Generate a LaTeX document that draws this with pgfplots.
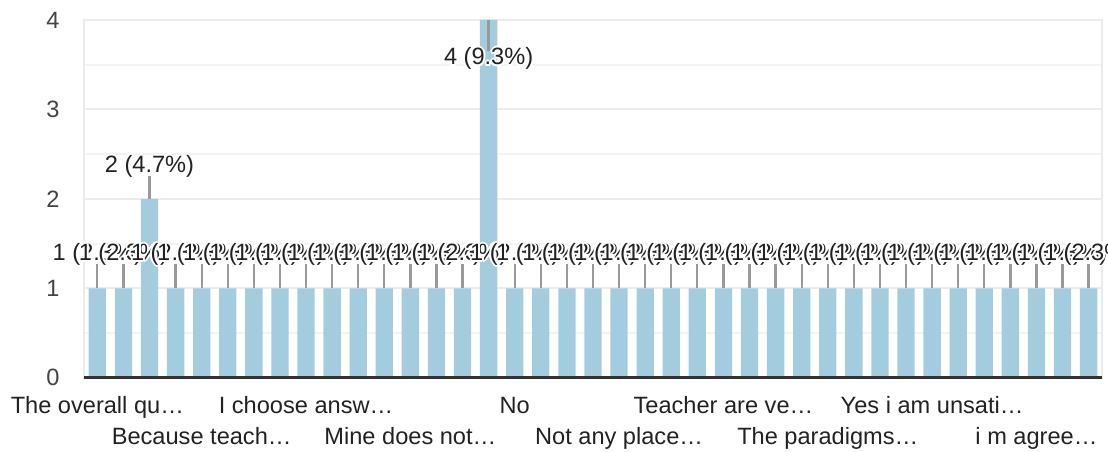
\documentclass[border=0pt]{standalone}
\usepackage{pgfplots}
\pgfplotsset{compat=1.18}
\usepackage{pgfplotstable}
\usepackage{fontspec}
\setmainfont{Liberation Sans}
\definecolor{barblue}{HTML}{A4CCDF}
\definecolor{gridgray}{HTML}{EBEBEB}
\definecolor{minorgray}{HTML}{F3F3F3}
\definecolor{leadergray}{HTML}{999999}
\definecolor{basecol}{HTML}{333333}
\definecolor{txt}{HTML}{222222}
\definecolor{ticktxt}{HTML}{444444}
\newcommand{\halo}[1]{\leavevmode
 \rlap{\color{white}\hspace*{2pt}#1}%
 \rlap{\color{white}\hspace*{-2pt}#1}%
 \rlap{\color{white}\raisebox{2pt}{#1}}%
 \rlap{\color{white}\raisebox{-2pt}{#1}}%
 \rlap{\color{white}\hspace*{1.4pt}\raisebox{1.4pt}{#1}}%
 \rlap{\color{white}\hspace*{-1.4pt}\raisebox{1.4pt}{#1}}%
 \rlap{\color{white}\hspace*{1.4pt}\raisebox{-1.4pt}{#1}}%
 \rlap{\color{white}\hspace*{-1.4pt}\raisebox{-1.4pt}{#1}}%
 #1}

\pgfplotstableread{
x y
0 1
1 1
2 2
3 1
4 1
5 1
6 1
7 1
8 1
9 1
10 1
11 1
12 1
13 1
14 1
15 4
16 1
17 1
18 1
19 1
20 1
21 1
22 1
23 1
24 1
25 1
26 1
27 1
28 1
29 1
30 1
31 1
32 1
33 1
34 1
35 1
36 1
37 1
38 1
}\bardata

% leader lines: bar top to label, one segment per bar
\pgfplotstableread{
x y
0 1
0 1.27
0 nan
1 1
1 1.27
1 nan
2 2
2 2.26
2 nan
3 1
3 1.27
3 nan
4 1
4 1.27
4 nan
5 1
5 1.27
5 nan
6 1
6 1.27
6 nan
7 1
7 1.27
7 nan
8 1
8 1.27
8 nan
9 1
9 1.27
9 nan
10 1
10 1.27
10 nan
11 1
11 1.27
11 nan
12 1
12 1.27
12 nan
13 1
13 1.27
13 nan
14 1
14 1.27
14 nan
15 4
15 3.65
15 nan
16 1
16 1.27
16 nan
17 1
17 1.27
17 nan
18 1
18 1.27
18 nan
19 1
19 1.27
19 nan
20 1
20 1.27
20 nan
21 1
21 1.27
21 nan
22 1
22 1.27
22 nan
23 1
23 1.27
23 nan
24 1
24 1.27
24 nan
25 1
25 1.27
25 nan
26 1
26 1.27
26 nan
27 1
27 1.27
27 nan
28 1
28 1.27
28 nan
29 1
29 1.27
29 nan
30 1
30 1.27
30 nan
31 1
31 1.27
31 nan
32 1
32 1.27
32 nan
33 1
33 1.27
33 nan
34 1
34 1.27
34 nan
35 1
35 1.27
35 nan
36 1
36 1.27
36 nan
37 1
37 1.27
37 nan
38 1
38 1.27
}\leaderdata

\pgfplotstableread[col sep=comma]{
x,ly,lab
0,1.31,1 (2.3\%)
1,1.31,1 (2.3\%)
2,2.29,2 (4.7\%)
3,1.31,1 (2.3\%)
4,1.31,1 (2.3\%)
5,1.31,1 (2.3\%)
6,1.31,1 (2.3\%)
7,1.31,1 (2.3\%)
8,1.31,1 (2.3\%)
9,1.31,1 (2.3\%)
10,1.31,1 (2.3\%)
11,1.31,1 (2.3\%)
12,1.31,1 (2.3\%)
13,1.31,1 (2.3\%)
14,1.31,1 (2.3\%)
15,3.50,4 (9.3\%)
16,1.31,1 (2.3\%)
17,1.31,1 (2.3\%)
18,1.31,1 (2.3\%)
19,1.31,1 (2.3\%)
20,1.31,1 (2.3\%)
21,1.31,1 (2.3\%)
22,1.31,1 (2.3\%)
23,1.31,1 (2.3\%)
24,1.31,1 (2.3\%)
25,1.31,1 (2.3\%)
26,1.31,1 (2.3\%)
27,1.31,1 (2.3\%)
28,1.31,1 (2.3\%)
29,1.31,1 (2.3\%)
30,1.31,1 (2.3\%)
31,1.31,1 (2.3\%)
32,1.31,1 (2.3\%)
33,1.31,1 (2.3\%)
34,1.31,1 (2.3\%)
35,1.31,1 (2.3\%)
36,1.31,1 (2.3\%)
37,1.31,1 (2.3\%)
38,1.31,1 (2.3\%)
}\labdata

\begin{document}
\begin{tikzpicture}
\useasboundingbox (0,0) rectangle (1108pt,452pt);
\begin{axis}[
  at={(84.3pt,74.3pt)}, anchor=south west,
  scale only axis, width=1017.4pt, height=357.7pt,
  xmin=-0.5, xmax=38.5, ymin=0, ymax=4,
  clip=false,
  unbounded coords=jump,
  axis line style={draw=gridgray, line width=2pt},
  ytick={0,1,2,3,4},
  minor ytick={0.5,1.5,2.5,3.5},
  ymajorgrids, yminorgrids,
  major grid style={draw=gridgray, line width=2pt},
  minor grid style={draw=minorgray, line width=2pt},
  major tick length=0pt, minor tick length=0pt,
  tick style={draw=none},
  /pgf/number format/assume math mode=true,
  tick label style={font=\fontsize{23.6}{27}\selectfont},
  yticklabel style={anchor=east, inner sep=0pt, xshift=-24.5pt, text=ticktxt},
  xticklabel style={anchor=base, inner sep=0pt, yshift=-35.6pt, text=txt},
  xtick={0,8,16,24,32},
  xticklabels={The overall qu…, I choose answ…, No, Teacher are ve…, Yes i am unsati…},
  extra x ticks={4,12,20,28,36},
  extra x tick labels={Because teach…, Mine does not…, Not any place…, The paradigms…, i m agree…},
  extra x tick style={grid=none, xticklabel style={yshift=-31.7pt}},
]
\addplot[ybar, bar width=17.3pt, fill=barblue, draw=none] table[x=x, y=y]{\bardata};
\addplot[draw=leadergray, line width=2.3pt, line cap=butt, mark=none, forget plot]
  table[x=x, y=y]{\leaderdata};
\addplot[draw=none, mark=none, forget plot,
  point meta=explicit symbolic,
  nodes near coords={\halo{\pgfplotspointmeta}},
  every node near coord/.append style={anchor=base, inner sep=0pt, text=txt, font=\fontsize{23.6}{27}\selectfont}]
  table[x=x, y=ly, meta=lab]{\labdata};
\draw[basecol, line width=2.5pt] (axis cs:-0.5,0) -- (axis cs:38.5,0);
\end{axis}
\end{tikzpicture}
\end{document}
